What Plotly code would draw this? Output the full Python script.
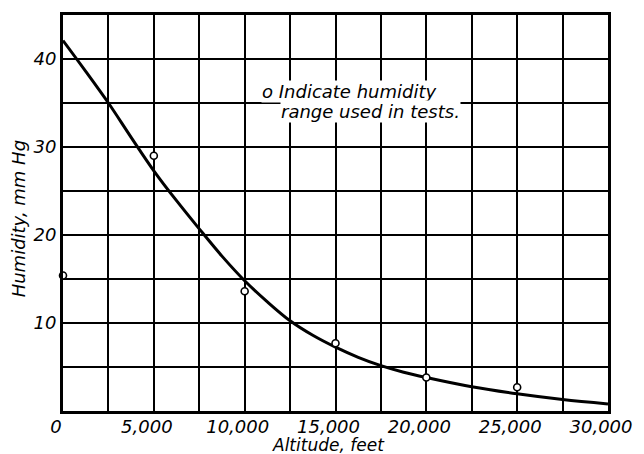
import plotly.graph_objects as go

# Smooth fitted curve (altitude ft, humidity mm Hg)
curve_alt = [0, 1250, 2500, 3750, 5000, 6250, 7500, 8750, 10000, 11250, 12500, 13750,
             15000, 16250, 17500, 18750, 20000, 22500, 25000, 27500, 30000]
curve_hum = [42.1, 38.6, 35.0, 31.1, 27.3, 23.9, 20.7, 17.6, 14.8, 12.4, 10.25, 8.6,
             7.25, 6.1, 5.15, 4.4, 3.8, 2.75, 1.95, 1.3, 0.8]

# Test points (open circles)
pt_alt = [0, 5000, 10000, 15000, 20000, 25000]
pt_hum = [15.4, 29.0, 13.6, 7.7, 3.8, 2.7]

x_tickvals = [0, 5000, 10000, 15000, 20000, 25000, 30000]
x_ticktext = ["0", "5,000", "10,000", "15,000", "20,000", "25,000", "30,000"]
y_tickvals = [10, 20, 30, 40]
y_ticktext = ["10", "20", "30", "40"]

FONT = "DejaVu Sans"
fig = go.Figure()
fig.add_trace(go.Scatter(x=curve_alt, y=curve_hum, mode="lines",
                         line=dict(color="black", width=3, shape="spline", smoothing=1.0),
                         showlegend=False, hoverinfo="skip"))
fig.add_trace(go.Scatter(x=pt_alt, y=pt_hum, mode="markers",
                         marker=dict(symbol="circle", size=7, color="white",
                                     line=dict(color="black", width=1.6)),
                         showlegend=False, cliponaxis=False))

fig.update_xaxes(range=[0, 30000], tickvals=x_tickvals, ticktext=x_ticktext,
                 showline=True, linecolor="black", linewidth=3, mirror=True,
                 ticks="", zeroline=False,
                 tickfont=dict(family=FONT, size=18, color="black", style="italic"),
                 ticklabelshift=-7, ticklabelstandoff=-3,
                 showgrid=True, gridcolor="black", gridwidth=2,
                 minor=dict(dtick=2500, showgrid=True, gridcolor="black", gridwidth=2))
fig.update_yaxes(range=[0, 45], tickvals=y_tickvals, ticktext=y_ticktext,
                 showline=True, linecolor="black", linewidth=3, mirror=True,
                 ticks="", zeroline=False,
                 tickfont=dict(family=FONT, size=18, color="black", style="italic"),
                 showgrid=True, gridcolor="black", gridwidth=2,
                 minor=dict(dtick=5, showgrid=True, gridcolor="black", gridwidth=2))

fig.add_annotation(xref="paper", yref="paper", x=0.487, y=-0.087,
                   text="Altitude, feet", showarrow=False, xanchor="center", yanchor="middle",
                   font=dict(family=FONT, size=17, color="black", style="italic"))
fig.add_annotation(xref="paper", yref="paper", x=-0.08, y=0.485,
                   text="Humidity, mm Hg", showarrow=False, textangle=-90,
                   xanchor="center", yanchor="middle",
                   font=dict(family=FONT, size=18, color="black", style="italic"))
fig.add_annotation(x=10900, y=36.3, text="o Indicate humidity", showarrow=False,
                   xanchor="left", yanchor="middle", bgcolor="white", borderpad=0,
                   font=dict(family=FONT, size=18, color="black", style="italic"))
fig.add_annotation(x=11950, y=34.0, text="range used in tests.", showarrow=False,
                   xanchor="left", yanchor="middle", bgcolor="white", borderpad=0,
                   font=dict(family=FONT, size=18, color="black", style="italic"))

fig.update_layout(width=644, height=454, margin=dict(l=63, r=33, t=13, b=43),
                  plot_bgcolor="white", paper_bgcolor="white")
fig.write_html("out.html", config={"displayModeBar": False},
               post_script="document.body.style.margin='0';document.body.style.overflow='hidden';")
